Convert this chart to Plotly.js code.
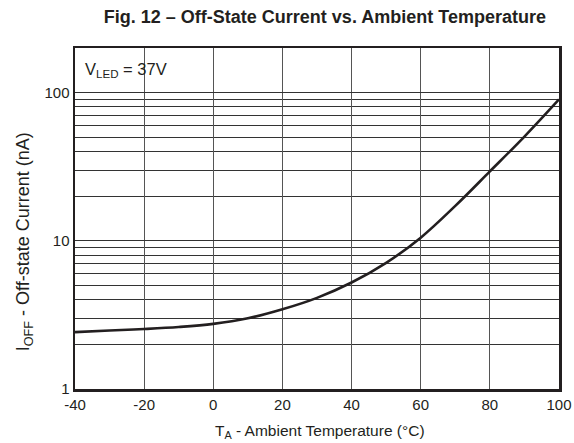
<!DOCTYPE html>
<html>
<head>
<meta charset="utf-8">
<script src="https://cdn.plot.ly/plotly-3.0.1.min.js"></script>
<style>html,body{margin:0;padding:0;background:#fff;}#chart{width:574px;height:443px;}</style>
</head>
<body>
<div id="chart"></div>
<script>
// Data
const temperatures = [-40, -30, -20, -10, 0, 10, 20, 30, 40, 50, 60, 70, 80, 90, 100];
const offCurrent = [2.42, 2.48, 2.54, 2.62, 2.75, 3.0, 3.45, 4.12, 5.23, 7.1, 10.5, 17.2, 29.4, 50.5, 90];
const xTicks = [-40, -20, 0, 20, 40, 60, 80, 100];
const xTickLabels = ['-40', '-20', '0', '20', '40', '60', '80', '100'];
const yTicks = [1, 10, 100];
const yTickLabels = ['1', '10', '100'];

const ink = '#231f20';
const font = 'Liberation Sans, Arial, Helvetica, sans-serif';

const trace = {
  x: temperatures,
  y: offCurrent,
  type: 'scatter',
  mode: 'lines',
  line: {color: ink, width: 2.6, shape: 'spline', smoothing: 1},
  hoverinfo: 'skip'
};

const layout = {
  width: 574,
  height: 443,
  margin: {l: 75, r: 15, t: 48, b: 54},
  paper_bgcolor: '#fff',
  plot_bgcolor: '#fff',
  showlegend: false,
  font: {family: font, color: ink, size: 15},
  title: {
    text: '<b>Fig. 12 – Off-State Current vs. Ambient Temperature</b>',
    x: 0.566, xanchor: 'center', xref: 'container',
    y: 0.963, yanchor: 'middle', yref: 'container',
    font: {family: font, size: 18, color: ink}
  },
  xaxis: {
    range: [-40, 100],
    tickvals: xTicks,
    ticktext: xTickLabels,
    ticks: '',
    showgrid: true,
    gridcolor: '#555',
    gridwidth: 1,
    zeroline: false,
    showline: true,
    mirror: true,
    linecolor: ink,
    linewidth: 2.5,
    tickfont: {family: font, size: 15, color: ink}
  },
  yaxis: {
    type: 'log',
    range: [0, Math.log10(200)],
    tickvals: yTicks,
    ticktext: yTickLabels,
    ticks: '',
    showgrid: true,
    gridcolor: '#333',
    gridwidth: 1,
    zeroline: false,
    showline: true,
    mirror: true,
    linecolor: ink,
    linewidth: 2.5,
    tickfont: {family: font, size: 15, color: ink},
    minor: {dtick: 'D1', showgrid: true, gridcolor: '#333', gridwidth: 1, ticks: ''}
  },
  annotations: [
    {
      text: 'V<sub>LED</sub> = 37V',
      xref: 'paper', yref: 'paper',
      x: 0.0165, y: 0.935, xanchor: 'left', yanchor: 'middle',
      showarrow: false,
      font: {family: font, size: 16.5, color: ink}
    },
    {
      text: 'I<sub>OFF</sub> - Off-state Current (nA)',
      xref: 'paper', yref: 'paper',
      x: -0.105, y: 0.431, xanchor: 'center', yanchor: 'middle',
      textangle: -90,
      showarrow: false,
      font: {family: font, size: 18, color: ink}
    },
    {
      text: 'T<sub>A</sub> - Ambient Temperature (°C)',
      xref: 'paper', yref: 'paper',
      x: 0.506, y: -0.126, xanchor: 'center', yanchor: 'middle',
      showarrow: false,
      font: {family: font, size: 15.5, color: ink}
    }
  ]
};

Plotly.newPlot('chart', [trace], layout, {displayModeBar: false, staticPlot: true});
</script>
</body>
</html>
